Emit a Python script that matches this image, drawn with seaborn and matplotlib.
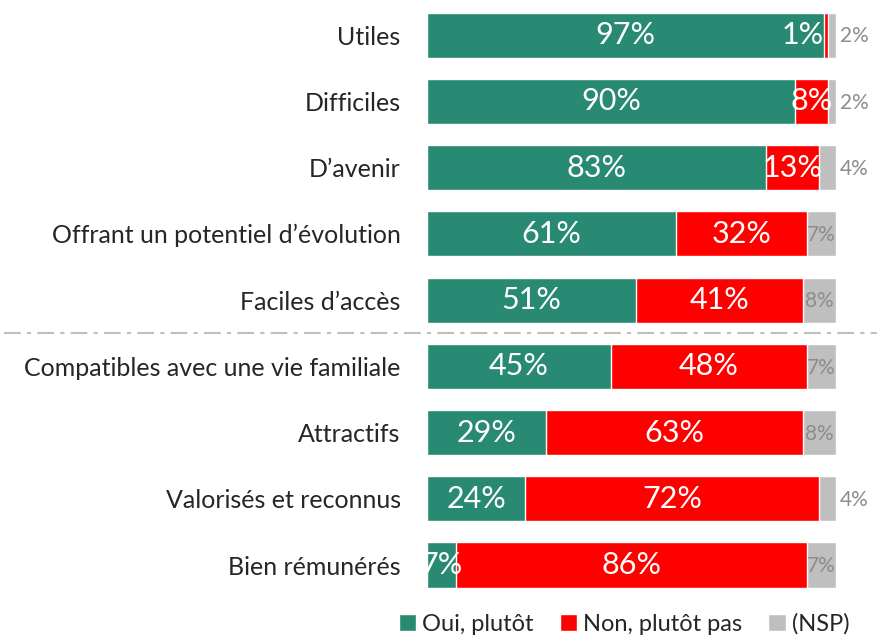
import matplotlib
matplotlib.use("Agg")
import matplotlib.pyplot as plt
import seaborn as sns
import pandas as pd

categories = ["Utiles", "Difficiles", "D\u2019avenir", "Offrant un potentiel d\u2019\u00e9volution",
              "Faciles d\u2019acc\u00e8s", "Compatibles avec une vie familiale", "Attractifs",
              "Valoris\u00e9s et reconnus", "Bien r\u00e9mun\u00e9r\u00e9s"]
oui = [97, 90, 83, 61, 51, 45, 29, 24, 7]
non = [1, 8, 13, 32, 41, 48, 63, 72, 86]
nsp = [2, 2, 4, 7, 8, 7, 8, 4, 7]
series_names = ["Oui, plut\u00f4t", "Non, plut\u00f4t pas", "(NSP)"]

GREEN = "#288a72"
RED = "#ff0000"
GREY = "#bfbfbf"
FONT = "Lato"

sns.set_theme(style="white")
plt.rcParams["font.family"] = [FONT, "DejaVu Sans"]

df = pd.DataFrame({"cat": categories, "oui": oui, "non": non, "nsp": nsp})
df["c_non"] = df["oui"] + df["non"]
df["c_nsp"] = df["c_non"] + df["nsp"]

fig = plt.figure(figsize=(8.77, 6.37), dpi=100)
ax = fig.add_axes([0.487, 0.061, 0.466, 0.936])

# stacked bars drawn as overlapping cumulative totals
sns.barplot(data=df, y="cat", x="c_nsp", color=GREY, width=0.68, ax=ax, orient="h",
            saturation=1, label=series_names[2])
sns.barplot(data=df, y="cat", x="c_non", color=RED, width=0.68, ax=ax, orient="h",
            saturation=1, label=series_names[1])
sns.barplot(data=df, y="cat", x="oui", color=GREEN, width=0.68, ax=ax, orient="h",
            saturation=1, label=series_names[0])
if ax.get_legend() is not None:
    ax.get_legend().remove()

ax.set_xlim(0, 100)
ax.set_ylim(len(categories) - 0.5, -0.5)
ax.set_xlabel("")
ax.set_ylabel("")
ax.set_xticks([])
for s in ax.spines.values():
    s.set_visible(False)
ax.tick_params(axis="y", length=0, pad=19, labelsize=18, labelcolor="#262626")

VAL = 22
for i in range(len(categories)):
    o, n, g = oui[i], non[i], nsp[i]
    ax.text(o / 2, i, f"{o}%", ha="center", va="center", color="white", fontsize=VAL)
    if n < 3:
        ax.text(o, i, f"{n}%", ha="right", va="center", color="white", fontsize=VAL)
    else:
        ax.text(o + n / 2, i, f"{n}%", ha="center", va="center", color="white", fontsize=VAL)
    if g < 5:
        ax.text(o + n + g + 1, i + 0.02, f"{g}%", ha="left", va="center",
                color="#8c8c8c", fontsize=15, clip_on=False)
    else:
        ax.text(o + n + g / 2, i + 0.02, f"{g}%", ha="center", va="center",
                color="#8c8c8c", fontsize=15)

# separator between the first five and last four items
sep_y = 1 - 333 / 637
fig.add_artist(plt.Line2D([0.005, 1.0], [sep_y, sep_y], transform=fig.transFigure,
                          color="#bfbfbf", lw=1.5, linestyle=(0, (8, 3, 2, 3))))

handles, labels = ax.get_legend_handles_labels()
order = [labels.index(n) for n in series_names]
leg = fig.legend([handles[k] for k in order], [labels[k] for k in order],
                 loc="lower right", bbox_to_anchor=(0.993, -0.03), ncol=3, frameon=False,
                 fontsize=17, handlelength=0.75, handleheight=0.75, handletextpad=0.25,
                 columnspacing=1.1)
for t in leg.get_texts():
    t.set_color("#262626")

fig.savefig("out.png", dpi=100)
